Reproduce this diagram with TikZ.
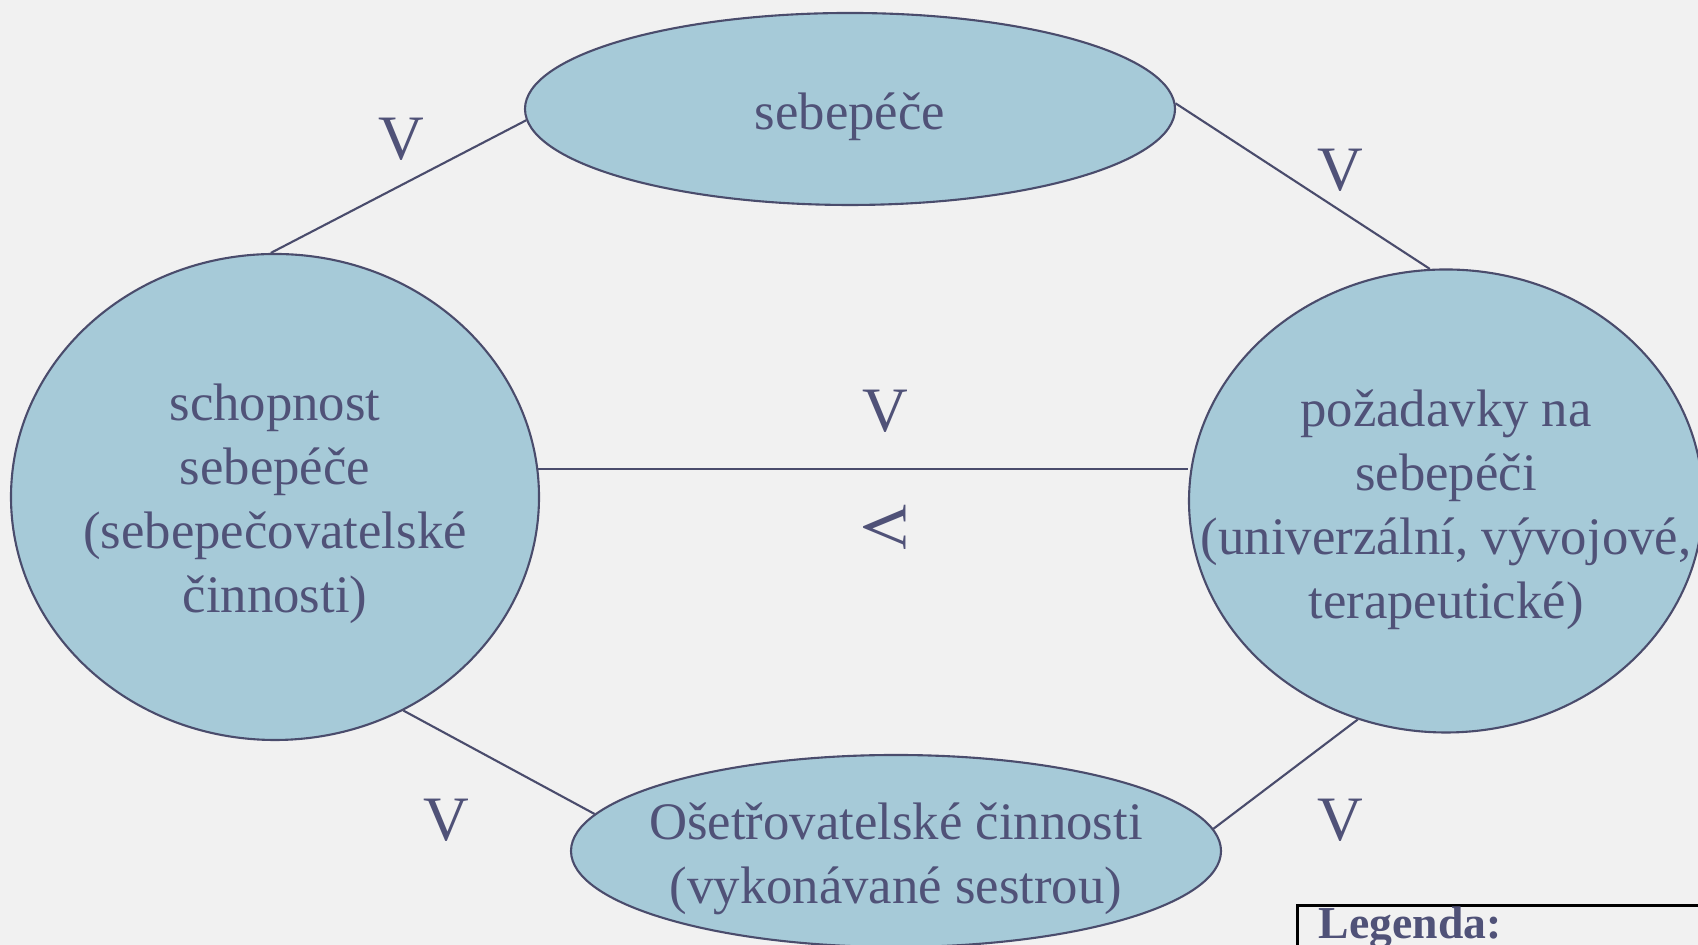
\documentclass[tikz,border=0pt]{standalone}
\usepackage{fontspec}
\setmainfont{Liberation Serif}
\usetikzlibrary{shapes.geometric}
\definecolor{blobfill}{HTML}{A6CAD8}
\definecolor{blobline}{HTML}{4A4C6C}
\definecolor{inkblue}{HTML}{505278}
\definecolor{paper}{HTML}{F1F1F1}

\begin{document}
\begin{tikzpicture}[
  blob/.style={ellipse, draw=blobline, fill=blobfill, line width=0.6pt, inner sep=0pt},
  blobtext/.style={text=inkblue, align=center, font=\fontsize{15}{18.2}\selectfont},
  vmark/.style={text=inkblue, font=\fontsize{18}{18}\selectfont, inner sep=0pt},
  link/.style={draw=blobline, line width=0.6pt}]
  % page
  \clip (0,0) rectangle (16.98,9.45);
  \fill[paper] (0,0) rectangle (16.98,9.45);

  % ellipses
  \node[blob, minimum width=6.5cm, minimum height=1.92cm] (care) at (8.50,8.36) {};
  \node[blob, minimum width=5.28cm, minimum height=4.86cm] (ability) at (2.75,4.48) {};
  \node[blob, minimum width=5.14cm, minimum height=4.63cm] (demand) at (14.46,4.44) {};
  \node[blob, minimum width=6.5cm, minimum height=1.92cm] (nursing) at (8.96,0.94) {};

  % texts
  \node[blobtext] (careT) at (8.50,8.28) {sebepéče};
  \node[blobtext] (abilityT) at (2.75,4.41) {schopnost\\sebepéče\\(sebepečovatelské\\činnosti)};
  \node[blobtext] (demandT) at (14.46,4.35) {požadavky na\\sebepéči\\(univerzální, vývojové,\\terapeutické)};
  \node[blobtext] (nursingT) at (8.96,0.86) {Ošetřovatelské činnosti\\(vykonávané sestrou)};

  % links
  \draw[link] (ability.91) -- (care.182);
  \draw[link] (care.1) -- (demand.94);
  \draw[link] (ability.6.7) -- (ability.6.7 -| demand.west);
  \draw[link] (ability.301) -- (nursing.173);
  \draw[link] (demand.248) -- (nursing.4);

  % relation marks
  \node[vmark] (v1) at (4.01,8.06) {V};
  \node[vmark] (v2) at (13.40,7.75) {V};
  \node[vmark] (v3) at (8.85,5.34) {V};
  \node[vmark, rotate=-90] (v4) at (8.85,4.18) {V};
  \node[vmark] (v5) at (4.46,1.25) {V};
  \node[vmark] (v6) at (13.40,1.25) {V};

  % legend
  \node[draw=black, line width=0.8pt, anchor=north west, minimum width=5cm, minimum height=1.5cm] (legend) at (12.96,0.41) {};
  \node[text=inkblue, font=\bfseries\fontsize{13}{13}\selectfont, anchor=base west, inner sep=0pt] (legendT) at (13.18,0.06) {Legenda:};
\end{tikzpicture}
\end{document}
